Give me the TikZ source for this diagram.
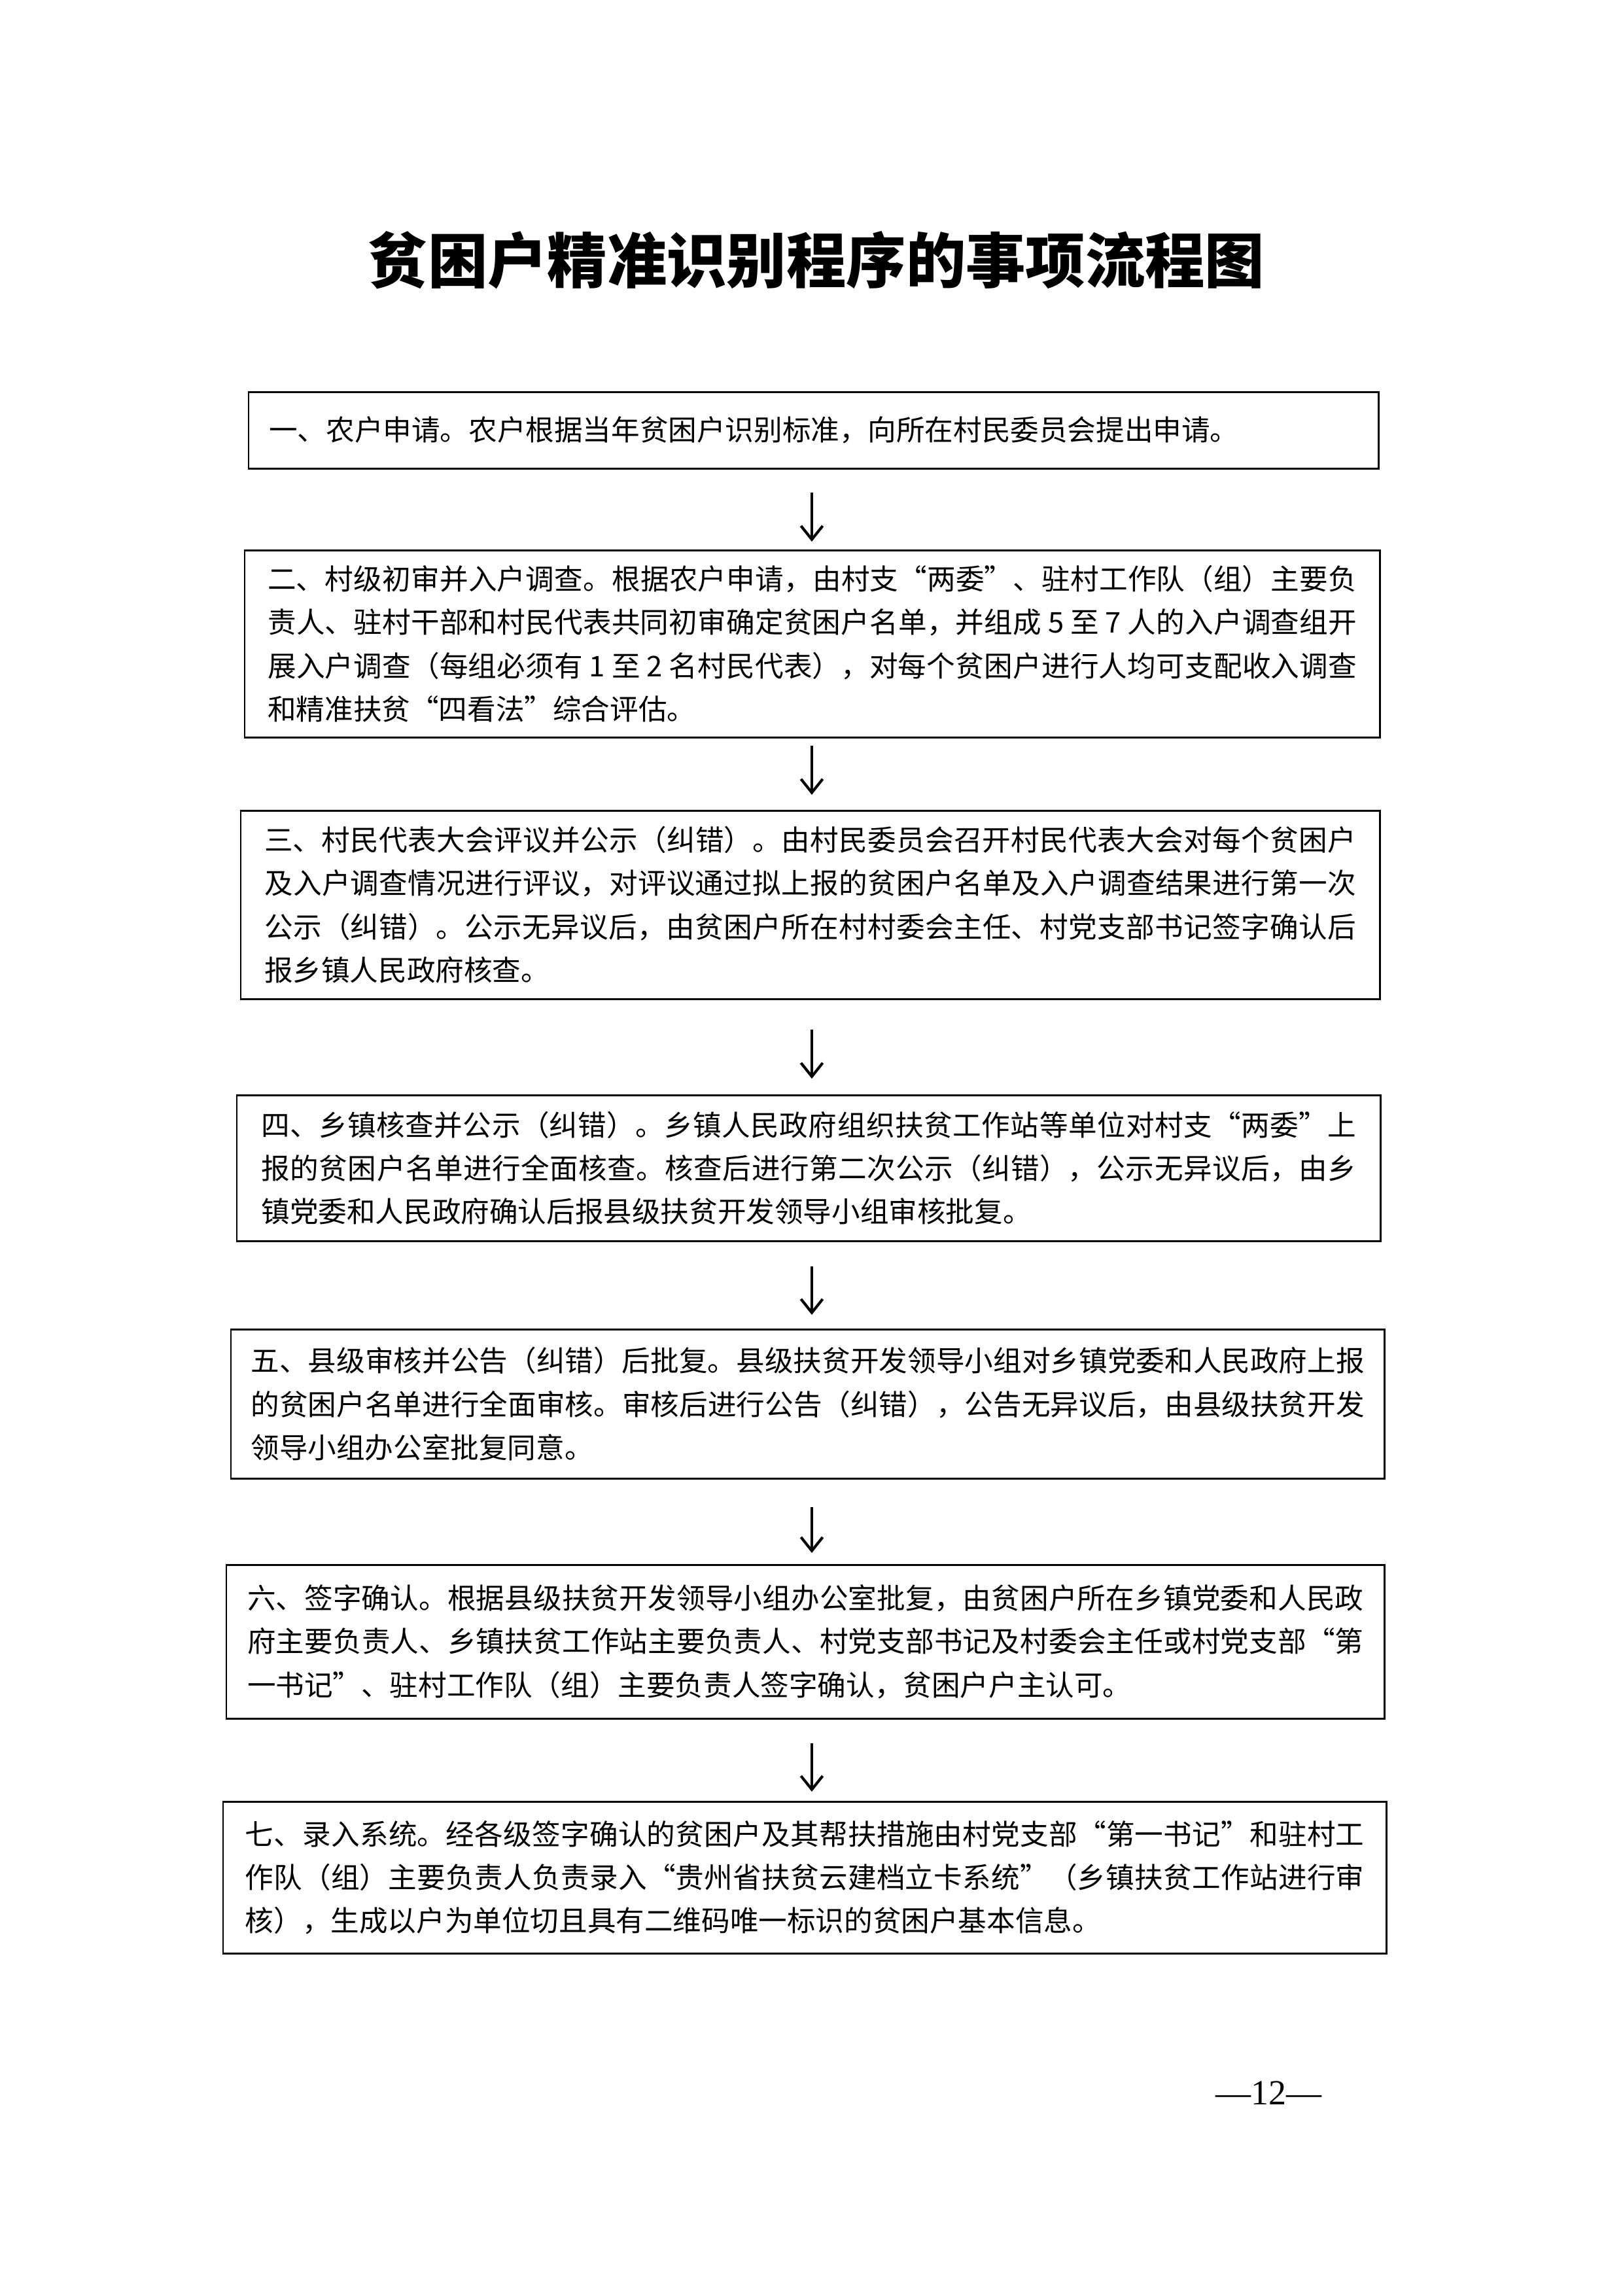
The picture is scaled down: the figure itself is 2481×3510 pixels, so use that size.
\documentclass[tikz,border=0pt]{standalone}
\usepackage{fontspec}
\setmainfont{Noto Sans CJK SC}
\newfontfamily\titlefont{Noto Sans CJK SC}
\newfontfamily\pagefont{Liberation Serif}
\usetikzlibrary{arrows.meta}
\XeTeXlinebreaklocale "zh"
\XeTeXlinebreakskip=0pt plus 2pt minus 0.4pt
\def\px{0.24085pt}
\tikzset{
  stepbox/.style={draw, line width=0.6pt, inner sep=0pt, align=justify, anchor=north west,
    font=\fontsize{10.5pt}{16pt}\selectfont},
  flow/.style={-{Straight Barb[length=5pt,width=8pt,line width=1pt]}, line width=1pt},
}
\newcommand\flowbox[7]{%
  \node[stepbox, text width=#6, minimum width={(#4-#2)*\px}, minimum height={(#5-#3)*\px}] (#1) at (#2,#3) {#7};}
\begin{document}
\begin{tikzpicture}[x=0.24085pt, y=-0.24085pt]
\fill[white] (0,0) rectangle (2481,3510);
\useasboundingbox (0,0) rectangle (2481,3510);

\node[font=\titlefont\bfseries\fontsize{22pt}{26pt}\selectfont] (title) at (1248,398) {贫困户精准识别程序的事项流程图};

\flowbox{b1}{379}{598}{2106}{715}{401pt}{一、农户申请。农户根据当年贫困户识别标准，向所在村民委员会提出申请。}

\flowbox{b2}{373}{840}{2108}{1126}{401pt}{二、村级初审并入户调查。根据农户申请，由村支“两委”、驻村工作队（组）主要负\linebreak 责人、驻村干部和村民代表共同初审确定贫困户名单，并组成 5 至 7 人的入户调查组开\linebreak 展入户调查（每组必须有 1 至 2 名村民代表），对每个贫困户进行人均可支配收入调查\linebreak 和精准扶贫“四看法”综合评估。}

\flowbox{b3}{367}{1238}{2108}{1526}{402pt}{三、村民代表大会评议并公示（纠错）。由村民委员会召开村民代表大会对每个贫困户\linebreak 及入户调查情况进行评议，对评议通过拟上报的贫困户名单及入户调查结果进行第一次\linebreak 公示（纠错）。公示无异议后，由贫困户所在村村委会主任、村党支部书记签字确认后\linebreak 报乡镇人民政府核查。}

\flowbox{b4}{361}{1673}{2109}{1896}{403pt}{四、乡镇核查并公示（纠错）。乡镇人民政府组织扶贫工作站等单位对村支“两委”上\linebreak 报的贫困户名单进行全面核查。核查后进行第二次公示（纠错），公示无异议后，由乡\linebreak 镇党委和人民政府确认后报县级扶贫开发领导小组审核批复。}

\flowbox{b5}{352}{2031}{2115}{2259}{410pt}{五、县级审核并公告（纠错）后批复。县级扶贫开发领导小组对乡镇党委和人民政府上报\linebreak 的贫困户名单进行全面审核。审核后进行公告（纠错），公告无异议后，由县级扶贫开发\linebreak 领导小组办公室批复同意。}

\flowbox{b6}{345}{2391}{2115}{2626}{411pt}{六、签字确认。根据县级扶贫开发领导小组办公室批复，由贫困户所在乡镇党委和人民政\linebreak 府主要负责人、乡镇扶贫工作站主要负责人、村党支部书记及村委会主任或村党支部“第\linebreak 一书记”、驻村工作队（组）主要负责人签字确认，贫困户户主认可。}

\flowbox{b7}{340}{2753}{2118}{2985}{412pt}{七、录入系统。经各级签字确认的贫困户及其帮扶措施由村党支部“第一书记”和驻村工\linebreak 作队（组）主要负责人负责录入“贵州省扶贫云建档立卡系统”（乡镇扶贫工作站进行审\linebreak 核），生成以户为单位切且具有二维码唯一标识的贫困户基本信息。}

\coordinate (ax) at (1241,0);
\draw[flow, shorten <=8.43pt, shorten >=2.89pt] (b1.south -| ax) -- (b2.north -| ax);
\draw[flow, shorten <=2.65pt, shorten >=5.54pt] (b2.south -| ax) -- (b3.north -| ax);
\draw[flow, shorten <=10.84pt, shorten >=5.78pt] (b3.south -| ax) -- (b4.north -| ax);
\draw[flow, shorten <=8.91pt, shorten >=5.06pt] (b4.south -| ax) -- (b5.north -| ax);
\draw[flow, shorten <=10.12pt, shorten >=4.09pt] (b5.south -| ax) -- (b6.north -| ax);
\draw[flow, shorten <=8.67pt, shorten >=3.37pt] (b6.south -| ax) -- (b7.north -| ax);

\node[font=\pagefont\fontsize{13pt}{15pt}\selectfont, anchor=base, inner sep=0pt] (pg) at (1939,3217) {—12—};
\end{tikzpicture}
\end{document}
